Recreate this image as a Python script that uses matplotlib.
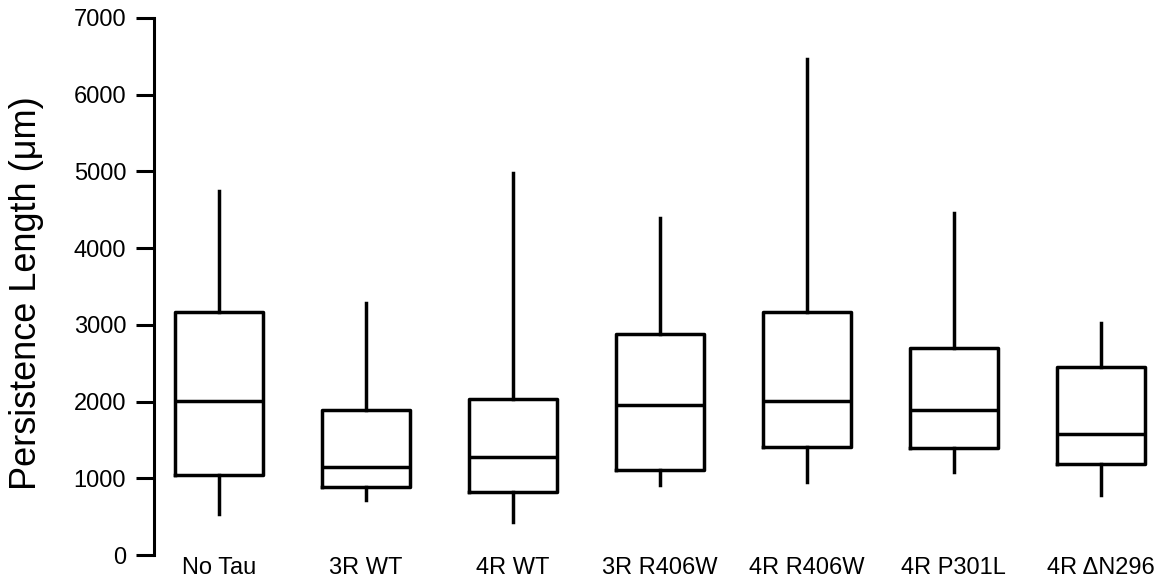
import matplotlib
matplotlib.use("Agg")
import matplotlib.pyplot as plt

categories = ["No Tau", "3R WT", "4R WT", "3R R406W", "4R R406W", "4R P301L", "4R \u0394N296"]
whisker_low = [538, 711, 432, 908, 951, 1081, 778]
q1 = [1048, 884, 817, 1105, 1413, 1394, 1187]
median = [2009, 1148, 1273, 1961, 2009, 1893, 1581]
q3 = [3172, 1893, 2037, 2878, 3172, 2696, 2456]
whisker_high = [4743, 3282, 4974, 4392, 6463, 4464, 3027]
yticks = [0, 1000, 2000, 3000, 4000, 5000, 6000, 7000]

plt.rcParams['font.family'] = ['Liberation Sans', 'DejaVu Sans']

fig = plt.figure(figsize=(11.67, 5.8), dpi=100)
ax = fig.add_axes([154 / 1167, 1 - 555 / 580, 1 - 154 / 1167, (555 - 18) / 580])

stats = []
for i, c in enumerate(categories):
    stats.append(dict(label=c, whislo=whisker_low[i], q1=q1[i], med=median[i],
                      q3=q3[i], whishi=whisker_high[i], fliers=[]))

lw = 2.5
ax.bxp(stats, positions=list(range(len(categories))), widths=0.6, showcaps=False,
       showfliers=False,
       boxprops=dict(color='black', linewidth=lw),
       whiskerprops=dict(color='black', linewidth=lw),
       medianprops=dict(color='black', linewidth=lw))

ax.set_ylim(0, 7000)
ax.set_xlim(-(218.7 - 154) / 147, (1167 - 218.7) / 147)
ax.set_yticks(yticks)
ax.set_yticklabels([str(t) for t in yticks], fontsize=17)
ax.set_xticks(range(len(categories)))
ax.set_xticklabels(categories, fontsize=17)

for s in ['top', 'right', 'bottom']:
    ax.spines[s].set_visible(False)
ax.spines['left'].set_linewidth(2.2)
ax.tick_params(axis='y', length=13, width=2.2, pad=7, direction='out')
ax.tick_params(axis='x', length=0, pad=1.5)

fig.text(27 / 1167, 1 - 293.5 / 580, "Persistence Length (\u03bcm)", rotation=90,
         fontsize=26, ha='center', va='center')

fig.savefig("out.png", dpi=100)
